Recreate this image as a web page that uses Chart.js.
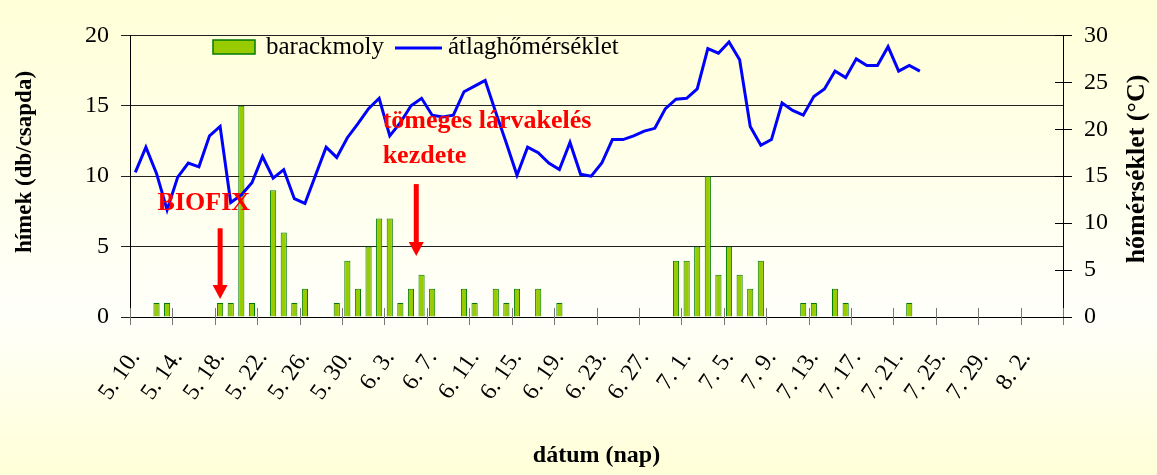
<!DOCTYPE html>
<html>
<head>
<meta charset="utf-8">
<script src="https://cdn.jsdelivr.net/npm/chart.js@4.4.1/dist/chart.umd.min.js"></script>
<style>
  html, body { margin: 0; padding: 0; }
  body {
    width: 1157px; height: 475px; overflow: hidden;
    background: linear-gradient(to bottom, #ffffd8 0%, #fffffa 66%, #ffffd8 100%);
  }
  .chart-wrap { position: relative; width: 1157px; height: 475px; }
</style>
</head>
<body>
<div class="chart-wrap"><canvas id="mothChart"></canvas></div>
<script>
// one category per day, 5. 10. - 8. 5.
const days = [
  '5. 10.', '5. 11.', '5. 12.', '5. 13.', '5. 14.', '5. 15.', '5. 16.', '5. 17.', '5. 18.', '5. 19.', '5. 20.',
  '5. 21.', '5. 22.', '5. 23.', '5. 24.', '5. 25.', '5. 26.', '5. 27.', '5. 28.', '5. 29.', '5. 30.', '5. 31.',
  '6. 1.', '6. 2.', '6. 3.', '6. 4.', '6. 5.', '6. 6.', '6. 7.', '6. 8.', '6. 9.', '6. 10.',
  '6. 11.', '6. 12.', '6. 13.', '6. 14.', '6. 15.', '6. 16.', '6. 17.', '6. 18.', '6. 19.', '6. 20.',
  '6. 21.', '6. 22.', '6. 23.', '6. 24.', '6. 25.', '6. 26.', '6. 27.', '6. 28.', '6. 29.', '6. 30.',
  '7. 1.', '7. 2.', '7. 3.', '7. 4.', '7. 5.', '7. 6.', '7. 7.', '7. 8.', '7. 9.', '7. 10.',
  '7. 11.', '7. 12.', '7. 13.', '7. 14.', '7. 15.', '7. 16.', '7. 17.', '7. 18.', '7. 19.', '7. 20.',
  '7. 21.', '7. 22.', '7. 23.', '7. 24.', '7. 25.', '7. 26.', '7. 27.', '7. 28.', '7. 29.', '7. 30.', '7. 31.',
  '8. 1.', '8. 2.', '8. 3.', '8. 4.', '8. 5.'
];

// males per trap (barackmoly)
const moths = [
  // May
  null, null, 1, 1, null, null, null, null, 1, 1, 15, 1, null, 9, 6, 1, 2, null, null, 1, 4, 2,
  // June
  5, 7, 7, 1, 2, 3, 2, null, null, 2, 1, null, 2, 1, 2, null, 2, null, 1,
  null, null, null, null, null, null, null, null, null, null, 4,
  // July
  4, 5, 10, 3, 5, 3, 2, 4, null, null, null, 1, 1, null, 2, 1, null, null, null, null, null, 1,
  null, null, null, null, null, null, null, null, null,
  // August
  null, null, null, null, null
];

// daily mean temperature (°C), 5. 10. - 7. 23.
const temperature = [
  15.4, 18.1, 15.3, 11.4, 14.9, 16.4, 16.0, 19.3, 20.3, 12.2, 13.0, 14.3, 17.1, 14.8, 15.7, 12.6,
  12.1, 15.1, 18.1, 17.0, 19.1, 20.6, 22.2, 23.3, 19.3, 20.7, 22.5, 23.3, 21.5, 21.3, 21.5, 24.0,
  24.6, 25.2, 21.8, 18.5, 15.1, 18.1, 17.5, 16.4, 15.7, 18.6, 15.2, 15.0, 16.4, 18.9, 18.9, 19.3,
  19.8, 20.1, 22.2, 23.2, 23.3, 24.3, 28.6, 28.1, 29.3, 27.4, 20.3, 18.3, 18.9, 22.8, 22.0, 21.5,
  23.5, 24.3, 26.2, 25.5, 27.5, 26.8, 26.8, 28.8, 26.2, 26.8, 26.2
];

const tickEvery = 4;
const serif = '"Liberation Serif", "Times New Roman", serif';

// red notes and arrows, placed in axis units (day index, left axis value)
const notes = [
  { lines: ['BIOFIX'], day: 2.1, value: 7.57 },
  { lines: ['tömeges lárvakelés', 'kezdete'], day: 23.33, value: 13.43 }
];
const arrows = [
  { day: 8, from: 6.3, to: 1.28 },
  { day: 26.5, from: 9.44, to: 4.34 }
];

const decorations = {
  id: 'decorations',
  afterDatasetsDraw(chart) {
    const { ctx, scales: { x, y, y1 } } = chart;
    const [tempSet, mothSet] = chart.data.datasets;
    ctx.save();

    // cross tick marks on the date axis
    ctx.lineWidth = 1;
    ctx.strokeStyle = '#777';
    const step = (x.right - x.left) / days.length;
    for (let i = 0; i <= days.length; i += tickEvery) {
      const px = Math.round(x.left + i * step) + 0.5;
      ctx.beginPath();
      ctx.moveTo(px, y.bottom - 9);
      ctx.lineTo(px, y.bottom + 8);
      ctx.stroke();
    }
    // cross tick marks on the right axis
    ctx.strokeStyle = '#000';
    for (let v = 0; v <= 30; v += 5) {
      const py = Math.round(y1.getPixelForValue(v)) + 0.5;
      ctx.beginPath();
      ctx.moveTo(y1.left - 8, py);
      ctx.lineTo(y1.left + 9, py);
      ctx.stroke();
    }

    // arrows
    ctx.fillStyle = '#ff0000';
    arrows.forEach(a => {
      const ax = x.getPixelForValue(a.day);
      const top = y.getPixelForValue(a.from);
      const tip = y.getPixelForValue(a.to);
      ctx.fillRect(ax - 2.5, top, 5, tip - top - 13);
      ctx.beginPath();
      ctx.moveTo(ax - 7.5, tip - 14);
      ctx.lineTo(ax + 7.5, tip - 14);
      ctx.lineTo(ax, tip);
      ctx.closePath();
      ctx.fill();
    });

    // notes
    ctx.font = 'bold 26px ' + serif;
    ctx.textAlign = 'left';
    ctx.textBaseline = 'alphabetic';
    notes.forEach(n => {
      const nx = x.getPixelForValue(n.day);
      const ny = y.getPixelForValue(n.value);
      n.lines.forEach((t, k) => ctx.fillText(t, nx, ny + k * 35));
    });

    // legend inside the plot
    ctx.fillStyle = mothSet.backgroundColor;
    ctx.strokeStyle = mothSet.borderColor;
    ctx.lineWidth = 1.5;
    ctx.fillRect(213, 40, 42, 14);
    ctx.strokeRect(213, 40, 42, 14);
    ctx.fillStyle = '#000';
    ctx.font = '25px ' + serif;
    ctx.fillText(mothSet.label, 266, 54);
    ctx.strokeStyle = tempSet.borderColor;
    ctx.lineWidth = 3;
    ctx.beginPath();
    ctx.moveTo(395, 48);
    ctx.lineTo(442, 48);
    ctx.stroke();
    ctx.fillText(tempSet.label, 448, 54);

    // vertical axis titles (both read bottom to top)
    ctx.textAlign = 'center';
    ctx.textBaseline = 'middle';
    [['hímek (db/csapda)', 25, 162, 23], ['hőmérséklet (°C)', 1137, 169, 26]].forEach(([t, tx, ty, size]) => {
      ctx.save();
      ctx.font = 'bold ' + size + 'px ' + serif;
      ctx.translate(tx, ty);
      ctx.rotate(-Math.PI / 2);
      ctx.fillText(t, 0, 0);
      ctx.restore();
    });

    ctx.restore();
  }
};

const tickFont = { family: serif, size: 24 };

new Chart(document.getElementById('mothChart'), {
  type: 'bar',
  data: {
    labels: days,
    datasets: [
      {
        type: 'line',
        label: 'átlaghőmérséklet',
        data: temperature,
        yAxisID: 'y1',
        borderColor: '#0000ff',
        borderWidth: 3,
        pointRadius: 0,
        tension: 0,
        order: 0
      },
      {
        label: 'barackmoly',
        data: moths,
        yAxisID: 'y',
        backgroundColor: '#99cc00',
        borderColor: '#007a00',
        borderWidth: 1,
        barPercentage: 0.58,
        categoryPercentage: 1,
        order: 1
      }
    ]
  },
  options: {
    responsive: true,
    maintainAspectRatio: false,
    animation: false,
    layout: { padding: { top: 21, left: 0, right: 0, bottom: 0 } },
    plugins: {
      legend: { display: false },
      tooltip: { enabled: false }
    },
    scales: {
      x: {
        offset: true,
        grid: { display: false, drawTicks: false, offset: true },
        border: { display: true, color: '#000', width: 1 },
        ticks: {
          autoSkip: false,
          minRotation: 55,
          maxRotation: 55,
          padding: 28,
          color: '#000',
          font: tickFont,
          callback: (v, i) => (i % tickEvery === 0 ? days[i] : '')
        },
        title: {
          display: true,
          text: 'dátum (nap)',
          color: '#000',
          font: { family: serif, size: 24, weight: 'bold' },
          padding: { top: 0, bottom: 5 }
        },
        afterFit: s => { s.height = 158; }
      },
      y: {
        position: 'left',
        min: 0,
        max: 20,
        ticks: { stepSize: 5, padding: 12, color: '#000', font: tickFont },
        grid: { color: '#222', lineWidth: 1, tickLength: 9 },
        border: { color: '#000', width: 1 },
        afterFit: s => { s.width = 130; }
      },
      y1: {
        position: 'right',
        min: 0,
        max: 30,
        ticks: { stepSize: 5, padding: 21, color: '#000', font: tickFont },
        grid: { drawOnChartArea: false, drawTicks: false },
        border: { color: '#000', width: 1 },
        afterFit: s => { s.width = 94; }
      }
    }
  },
  plugins: [decorations]
});
</script>
</body>
</html>
